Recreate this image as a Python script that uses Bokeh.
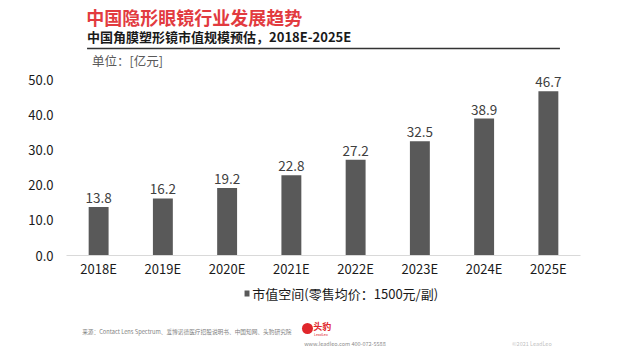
from bokeh.plotting import figure
from bokeh.layouts import column
from bokeh.models import FixedTicker, ColumnDataSource, CustomJSTickFormatter
from bokeh.embed import file_html
from bokeh.resources import INLINE
from bokeh.core.properties import value

years = ["2018E", "2019E", "2020E", "2021E", "2022E", "2023E", "2024E", "2025E"]
market = [13.8, 16.2, 19.2, 22.8, 27.2, 32.5, 38.9, 46.7]
yticks = [0, 10, 20, 30, 40, 50]

title_text = "中国隐形眼镜行业发展趋势"
subtitle_text = "中国角膜塑形镜市值规模预估，2018E-2025E"
unit_text = "单位：[亿元]"
series_name = "市值空间(零售均价：1500元/副)"
source_text = "来源：Contact Lens Spectrum、爱博诺德医疗招股说明书、中国知网、头豹研究院"

FONT = "Noto Sans CJK SC"
W = 625
HEAD_H = 70          # header strip: rows 0..70
CHART_H = 210        # chart strip: rows 70..280
FOOT_H = 351 - HEAD_H - CHART_H
FL, FR = 66, 580     # frame left/right in page pixels
FT, FB = 72, 256     # frame top/bottom in page pixels


def strip(h):
    f = figure(width=W, height=h, x_range=(0, W), y_range=(h, 0),
               output_backend="svg", toolbar_location=None,
               x_axis_type=None, y_axis_type=None, min_border=0)
    f.outline_line_color = None
    f.xgrid.grid_line_color = None
    f.ygrid.grid_line_color = None
    f.border_fill_color = "white"
    f.background_fill_color = "white"
    return f


def txt(f, text, x, y, size, color, bold=False, align="left"):
    f.text(x=[x], y=[y], text=[text], text_font=value(FONT), text_font_size=size,
           text_color=color, text_font_style="bold" if bold else "normal",
           text_align=align, text_baseline="middle")


# ---------------- header ----------------
head = strip(HEAD_H)
txt(head, title_text, 24, 16, "18px", "#e23b3f", bold=True)
txt(head, subtitle_text, 25, 36, "13px", "#1a1a1a", bold=True)
head.segment(x0=[25], y0=[48], x1=[600], y1=[48], line_color="#333333", line_width=1.6)
txt(head, unit_text, 31, 60, "12.5px", "#595959")

# ---------------- chart ----------------
src = ColumnDataSource(dict(x=years, top=market, lab=[f"{v:.1f}" for v in market]))
p = figure(x_range=years, y_range=(0, 52), width=W, height=CHART_H,
           output_backend="svg", toolbar_location=None,
           min_border_left=FL, min_border_right=W - FR,
           min_border_top=FT - HEAD_H, min_border_bottom=HEAD_H + CHART_H - FB)
p.outline_line_color = None
p.xgrid.grid_line_color = None
p.ygrid.grid_line_color = None
p.background_fill_color = "white"
p.border_fill_color = "white"

p.vbar(x="x", top="top", width=0.31, source=src, fill_color="#595959", line_color=None)
p.text(x="x", y="top", text="lab", source=src, text_align="center", text_baseline="bottom",
       y_offset=-4, text_font=value(FONT), text_font_size="13.5px", text_color="#404040")

p.yaxis.ticker = FixedTicker(ticks=yticks)
p.yaxis.formatter = CustomJSTickFormatter(code="return tick.toFixed(1);")
p.yaxis.axis_line_color = None
p.yaxis.major_tick_line_color = None
p.yaxis.minor_tick_line_color = None
p.yaxis.major_tick_out = 0
p.yaxis.major_tick_in = 0
p.yaxis.minor_tick_out = 0
p.yaxis.major_label_standoff = 13
p.yaxis.major_label_text_font = FONT
p.yaxis.major_label_text_font_size = "13px"
p.yaxis.major_label_text_color = "#1a1a1a"

p.xaxis.axis_line_color = "#d9d9d9"
p.xaxis.axis_line_width = 1
p.xaxis.major_tick_line_color = None
p.xaxis.minor_tick_line_color = None
p.xaxis.major_tick_out = 0
p.xaxis.major_tick_in = 0
p.xaxis.minor_tick_out = 0
p.xaxis.major_label_standoff = 3
p.xaxis.major_label_text_font = FONT
p.xaxis.major_label_text_font_size = "13px"
p.xaxis.major_label_text_color = "#1a1a1a"

# ---------------- footer ----------------
foot = strip(FOOT_H)
y0 = HEAD_H + CHART_H  # page row of footer top
foot.rect(x=[219.5], y=[293 - y0], width=6, height=6, fill_color="#595959", line_color=None)
txt(foot, series_name, 226, 293 - y0, "13px", "#1a1a1a")
txt(foot, source_text, 19, 331 - y0, "5.7px", "#7f7f7f")
foot.scatter(x=[293], y=[328 - y0], size=11, marker="circle", fill_color="#e0262b", line_color=None)
txt(foot, "头豹", 300, 326 - y0, "9px", "#e0262b", bold=True)
txt(foot, "LeadLeo", 301, 333.5 - y0, "3.5px", "#e0262b")
txt(foot, "www.leadleo.com    400-072-5588", 289, 343 - y0, "5.5px", "#8c8c8c")
txt(foot, "©2021 LeadLeo", 590, 343 - y0, "5.5px", "#bfbfbf", align="right")

layout = column(head, p, foot, spacing=0)
open("out.html", "w").write(file_html(layout, INLINE))
